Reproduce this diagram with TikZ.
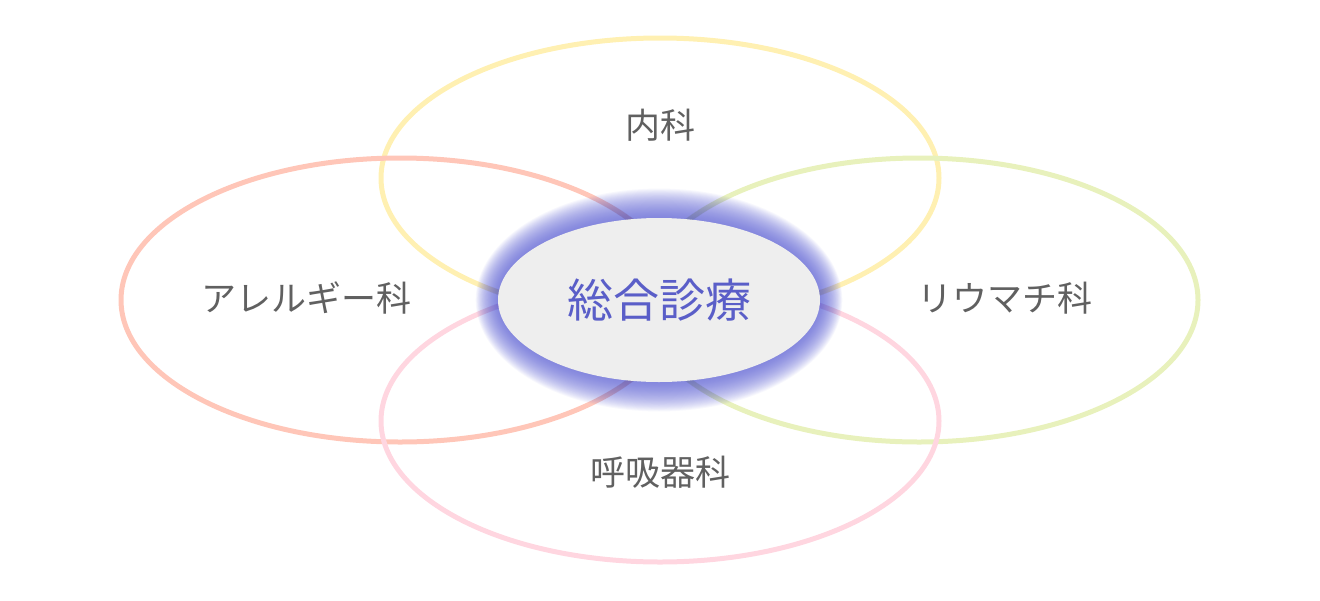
\documentclass[tikz,border=0pt]{standalone}
\usepackage{fontspec}
\newfontfamily\jpfont{Noto Sans CJK JP}
\definecolor{ringyellow}{HTML}{FFF0B2}
\definecolor{ringsalmon}{HTML}{FFC6B8}
\definecolor{ringgreen}{HTML}{E8F1BC}
\definecolor{ringpink}{HTML}{FFD6E0}
\definecolor{glowblue}{HTML}{5A5ED2}
\definecolor{labelgray}{HTML}{606060}
\definecolor{corefill}{HTML}{EEEEEE}
\definecolor{coretext}{HTML}{5A5EC8}
\tikzset{
  ring/.style={line width=5pt},
  dept/.style={text=labelgray, font=\jpfont\fontsize{35}{40}\selectfont, inner sep=0pt},
  core/.style={text=coretext, font=\jpfont\fontsize{46}{52}\selectfont, inner sep=0pt}
}
\begin{document}
\begin{tikzpicture}[x=1pt,y=-1pt]
        \useasboundingbox (0,0) rectangle (1320,600);
        \coordinate (top) at (660,178);
        \coordinate (left) at (400,300);
        \coordinate (right) at (919,300);
        \coordinate (bottom) at (660,421);
        \coordinate (mid) at (659,300);

        \draw[ring, ringyellow] (top) ellipse [x radius=279pt, y radius=140pt];
        \draw[ring, ringsalmon] (left) ellipse [x radius=279pt, y radius=142pt];
        \draw[ring, ringgreen] (right) ellipse [x radius=279pt, y radius=142pt];
        \draw[ring, ringpink] (bottom) ellipse [x radius=279pt, y radius=141pt];

        \node[dept] (naika) at (660,125) {内科};
        \node[dept] (allergy) at (306,298) {アレルギー科};
        \node[dept] (rheuma) at (1005,298) {リウマチ科};
        \node[dept] (kokyu) at (660,472) {呼吸器科};

        \foreach \i [evaluate=\i as \rx using 161+(32-\i)*0.72, evaluate=\i as \ry using 82+(32-\i)*0.95] in {1,...,32}
          \fill[glowblue, opacity=0.045] (mid) ellipse [x radius=\rx pt, y radius=\ry pt];
        \fill[corefill] (mid) ellipse [x radius=161pt, y radius=82pt];
        \node[core] (sogo) at (mid) {総合診療};
    \end{tikzpicture}
\end{document}
